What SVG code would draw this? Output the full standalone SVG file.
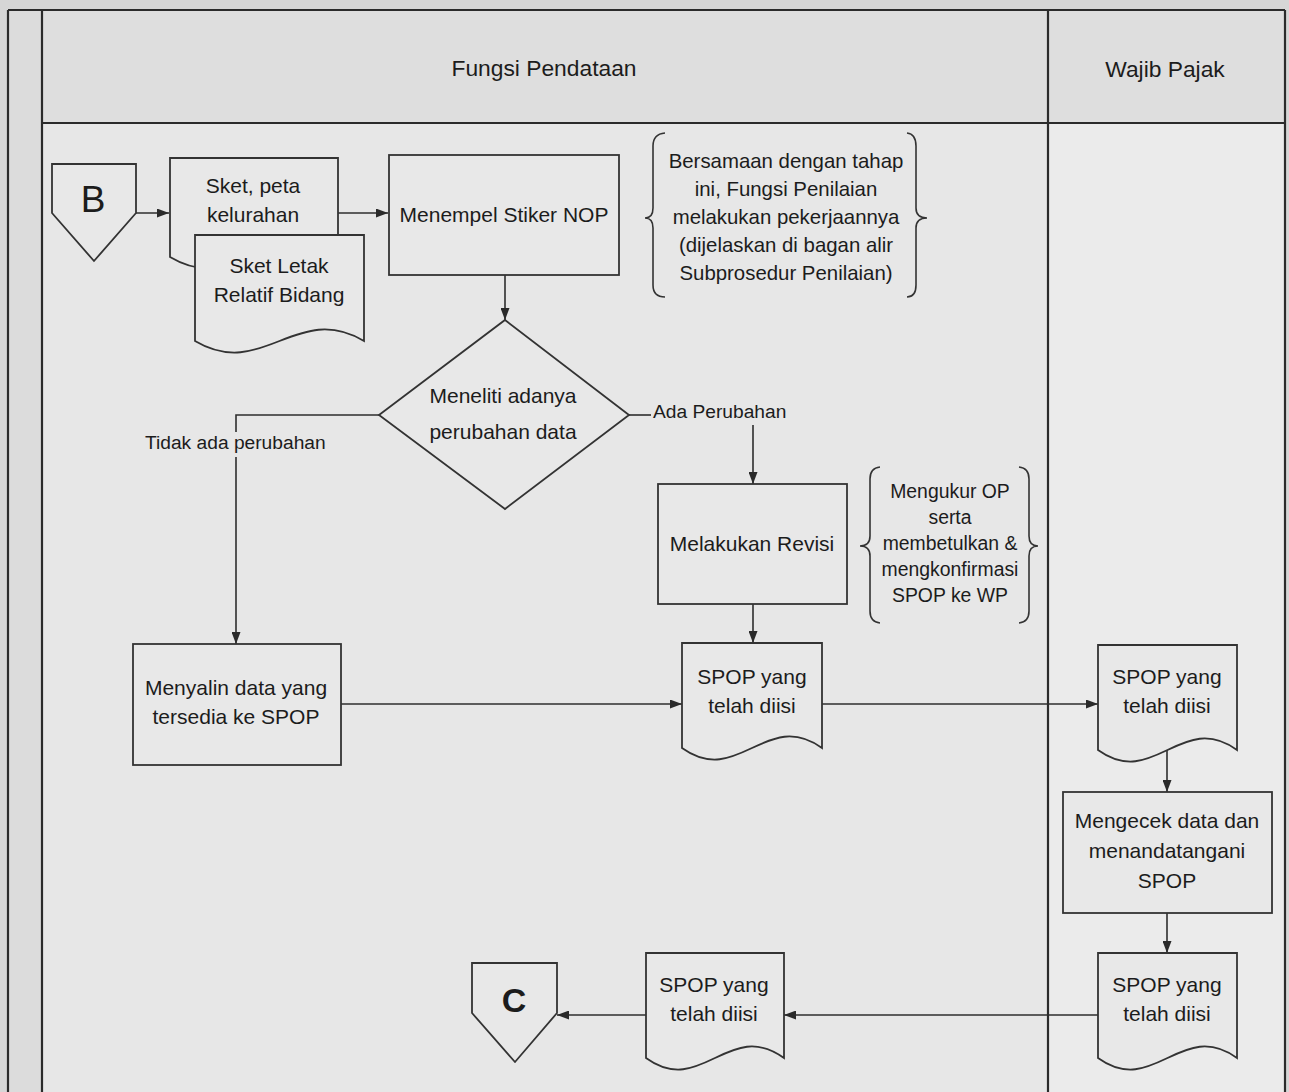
<svg xmlns="http://www.w3.org/2000/svg" width="1289" height="1092" viewBox="0 0 1289 1092">
  <style>
    .frame { fill: none; stroke: #2b2b2b; stroke-width: 2.2; }
    .shape { fill: #e8e8e8; stroke: #333; stroke-width: 1.8; }
    .brace { fill: none; stroke: #333; stroke-width: 1.6; }
    .conn { fill: none; stroke: #2e2e2e; stroke-width: 1.6; }
    .arrow { marker-end: url(#head); }
    text { font-family: "Liberation Sans", Arial, sans-serif; fill: #1c1c1c; text-anchor: middle; }
    .h { font-size: 22.8px; }
    .t { font-size: 21px; }
    .s { font-size: 20.4px; }
    .s2 { font-size: 19.4px; }
    .lbl { font-size: 19.2px; text-anchor: start; }
    .big { font-size: 37px; }
  </style>
  <defs>
    <marker id="head" viewBox="0 0 12 9" refX="12" refY="4.5" markerWidth="12" markerHeight="9" markerUnits="userSpaceOnUse" orient="auto">
      <path d="M0,0 L12,4.5 L0,9 Z" fill="#2a2a2a"/>
    </marker>
  </defs>

  <!-- page and lane backgrounds -->
  <rect x="0" y="0" width="1289" height="1092" fill="#d6d6d6"/>
  <rect x="8" y="10" width="34" height="1082" fill="#dcdcdc"/>
  <rect x="42" y="10" width="1243" height="113" fill="#dedede"/>
  <rect x="42" y="123" width="1006" height="969" fill="#e7e7e7"/>
  <rect x="1048" y="123" width="237" height="969" fill="#ebebeb"/>

  <!-- swimlane frame -->
  <g id="frame">
    <line class="frame" x1="8" y1="10" x2="1285" y2="10"/>
    <line class="frame" x1="8" y1="10" x2="8" y2="1092"/>
    <line class="frame" x1="42" y1="10" x2="42" y2="1092"/>
    <line class="frame" x1="42" y1="123" x2="1285" y2="123"/>
    <line class="frame" x1="1048" y1="10" x2="1048" y2="1092"/>
    <line class="frame" x1="1285" y1="10" x2="1285" y2="1092"/>
    <text class="h" x="544" y="76">Fungsi Pendataan</text>
    <text class="h" x="1165" y="77">Wajib Pajak</text>
  </g>

  <!-- connectors -->
  <g id="connectors">
    <line class="conn arrow" x1="136" y1="213" x2="169" y2="213"/>
    <line class="conn arrow" x1="338" y1="213" x2="388" y2="213"/>
    <line class="conn arrow" x1="505" y1="275" x2="505" y2="320"/>
    <polyline class="conn" points="379,415 236,415 236,432"/>
    <line class="conn arrow" x1="236" y1="457" x2="236" y2="644"/>
    <line class="conn" x1="629" y1="415" x2="651" y2="415"/>
    <line class="conn arrow" x1="753" y1="425" x2="753" y2="484"/>
    <line class="conn arrow" x1="753" y1="604" x2="753" y2="643"/>
    <line class="conn arrow" x1="341" y1="704" x2="682" y2="704"/>
    <line class="conn arrow" x1="822" y1="704" x2="1098" y2="704"/>
    <line class="conn arrow" x1="1167" y1="750" x2="1167" y2="792"/>
    <line class="conn arrow" x1="1167" y1="913" x2="1167" y2="953"/>
    <line class="conn arrow" x1="1098" y1="1015" x2="784" y2="1015"/>
    <line class="conn arrow" x1="646" y1="1015" x2="557" y2="1015"/>
    <text class="lbl" x="653" y="418">Ada Perubahan</text>
    <text class="lbl" x="145" y="449">Tidak ada perubahan</text>
  </g>

  <!-- off-page connector B -->
  <g id="conn-b">
    <polygon class="shape" points="52,164 136,164 136,213 94,261 52,213"/>
    <text class="big" x="93" y="212">B</text>
  </g>

  <!-- input documents -->
  <g id="doc-sket-peta">
    <path class="shape" d="M170,158 H338 V257 C270.8,217 237.2,297 170,257 Z"/>
    <text class="t" x="253" y="193">Sket, peta</text>
    <text class="t" x="253" y="222">kelurahan</text>
  </g>
  <g id="doc-sket-letak">
    <path class="shape" d="M195,235 H364 V341 C296.4,301 262.6,381 195,341 Z"/>
    <text class="t" x="279" y="273">Sket Letak</text>
    <text class="t" x="279" y="302">Relatif Bidang</text>
  </g>

  <g id="menempel">
    <rect class="shape" x="389" y="155" width="230" height="120"/>
    <text class="t" x="504" y="222">Menempel Stiker NOP</text>
  </g>

  <g id="note-penilaian">
    <path class="brace" d="M665,133 Q653,134 653,146 V208 Q653,218 645,218 Q653,218 653,228 V285 Q653,297 665,297"/>
    <path class="brace" d="M907,133 Q916,134 916,146 V208 Q916,218 927,218 Q916,218 916,228 V285 Q916,297 907,297"/>
    <text class="s" x="786" y="168">Bersamaan dengan tahap</text>
    <text class="s" x="786" y="196">ini, Fungsi Penilaian</text>
    <text class="s" x="786" y="224">melakukan pekerjaannya</text>
    <text class="s" x="786" y="252">(dijelaskan di bagan alir</text>
    <text class="s" x="786" y="280">Subprosedur Penilaian)</text>
  </g>

  <g id="meneliti">
    <polygon class="shape" points="505,320 629,415 505,509 379,415"/>
    <text class="t" x="503" y="403">Meneliti adanya</text>
    <text class="t" x="503" y="439">perubahan data</text>
  </g>

  <g id="revisi">
    <rect class="shape" x="658" y="484" width="189" height="120"/>
    <text class="t" x="752" y="551">Melakukan Revisi</text>
  </g>

  <g id="note-revisi">
    <path class="brace" d="M880,467 Q870,468 870,479 V536 Q870,546 860,546 Q870,546 870,556 V611 Q870,622 880,623"/>
    <path class="brace" d="M1019,467 Q1029,468 1029,479 V536 Q1029,546 1038,546 Q1029,546 1029,556 V611 Q1029,622 1019,623"/>
    <text class="s2" x="950" y="498">Mengukur OP</text>
    <text class="s2" x="950" y="524">serta</text>
    <text class="s2" x="950" y="550">membetulkan &amp;</text>
    <text class="s2" x="950" y="576">mengkonfirmasi</text>
    <text class="s2" x="950" y="602">SPOP ke WP</text>
  </g>

  <g id="menyalin">
    <rect class="shape" x="133" y="644" width="208" height="121"/>
    <text class="t" x="236" y="695">Menyalin data yang</text>
    <text class="t" x="236" y="724">tersedia ke SPOP</text>
  </g>

  <g id="spop-terisi">
    <path class="shape" d="M682,643 H822 V748 C766,708 738,788 682,748 Z"/>
    <text class="t" x="752" y="684">SPOP yang</text>
    <text class="t" x="752" y="713">telah diisi</text>
  </g>

  <g id="spop-wp">
    <path class="shape" d="M1098,645 H1237 V750 C1181.4,710 1153.6,790 1098,750 Z"/>
    <text class="t" x="1167" y="684">SPOP yang</text>
    <text class="t" x="1167" y="713">telah diisi</text>
  </g>

  <g id="mengecek">
    <rect class="shape" x="1063" y="792" width="209" height="121"/>
    <text class="t" x="1167" y="828">Mengecek data dan</text>
    <text class="t" x="1167" y="858">menandatangani</text>
    <text class="t" x="1167" y="888">SPOP</text>
  </g>

  <g id="spop-ttd">
    <path class="shape" d="M1098,953 H1237 V1058 C1181.4,1018 1153.6,1098 1098,1058 Z"/>
    <text class="t" x="1167" y="992">SPOP yang</text>
    <text class="t" x="1167" y="1021">telah diisi</text>
  </g>

  <g id="spop-kembali">
    <path class="shape" d="M646,953 H784 V1058 C728.8,1018 701.2,1098 646,1058 Z"/>
    <text class="t" x="714" y="992">SPOP yang</text>
    <text class="t" x="714" y="1021">telah diisi</text>
  </g>

  <!-- off-page connector C -->
  <g id="conn-c">
    <polygon class="shape" points="472,963 557,963 557,1013 515,1062 472,1013"/>
    <text class="big" x="514" y="1012" font-weight="bold" style="font-size:34px">C</text>
  </g>
</svg>
